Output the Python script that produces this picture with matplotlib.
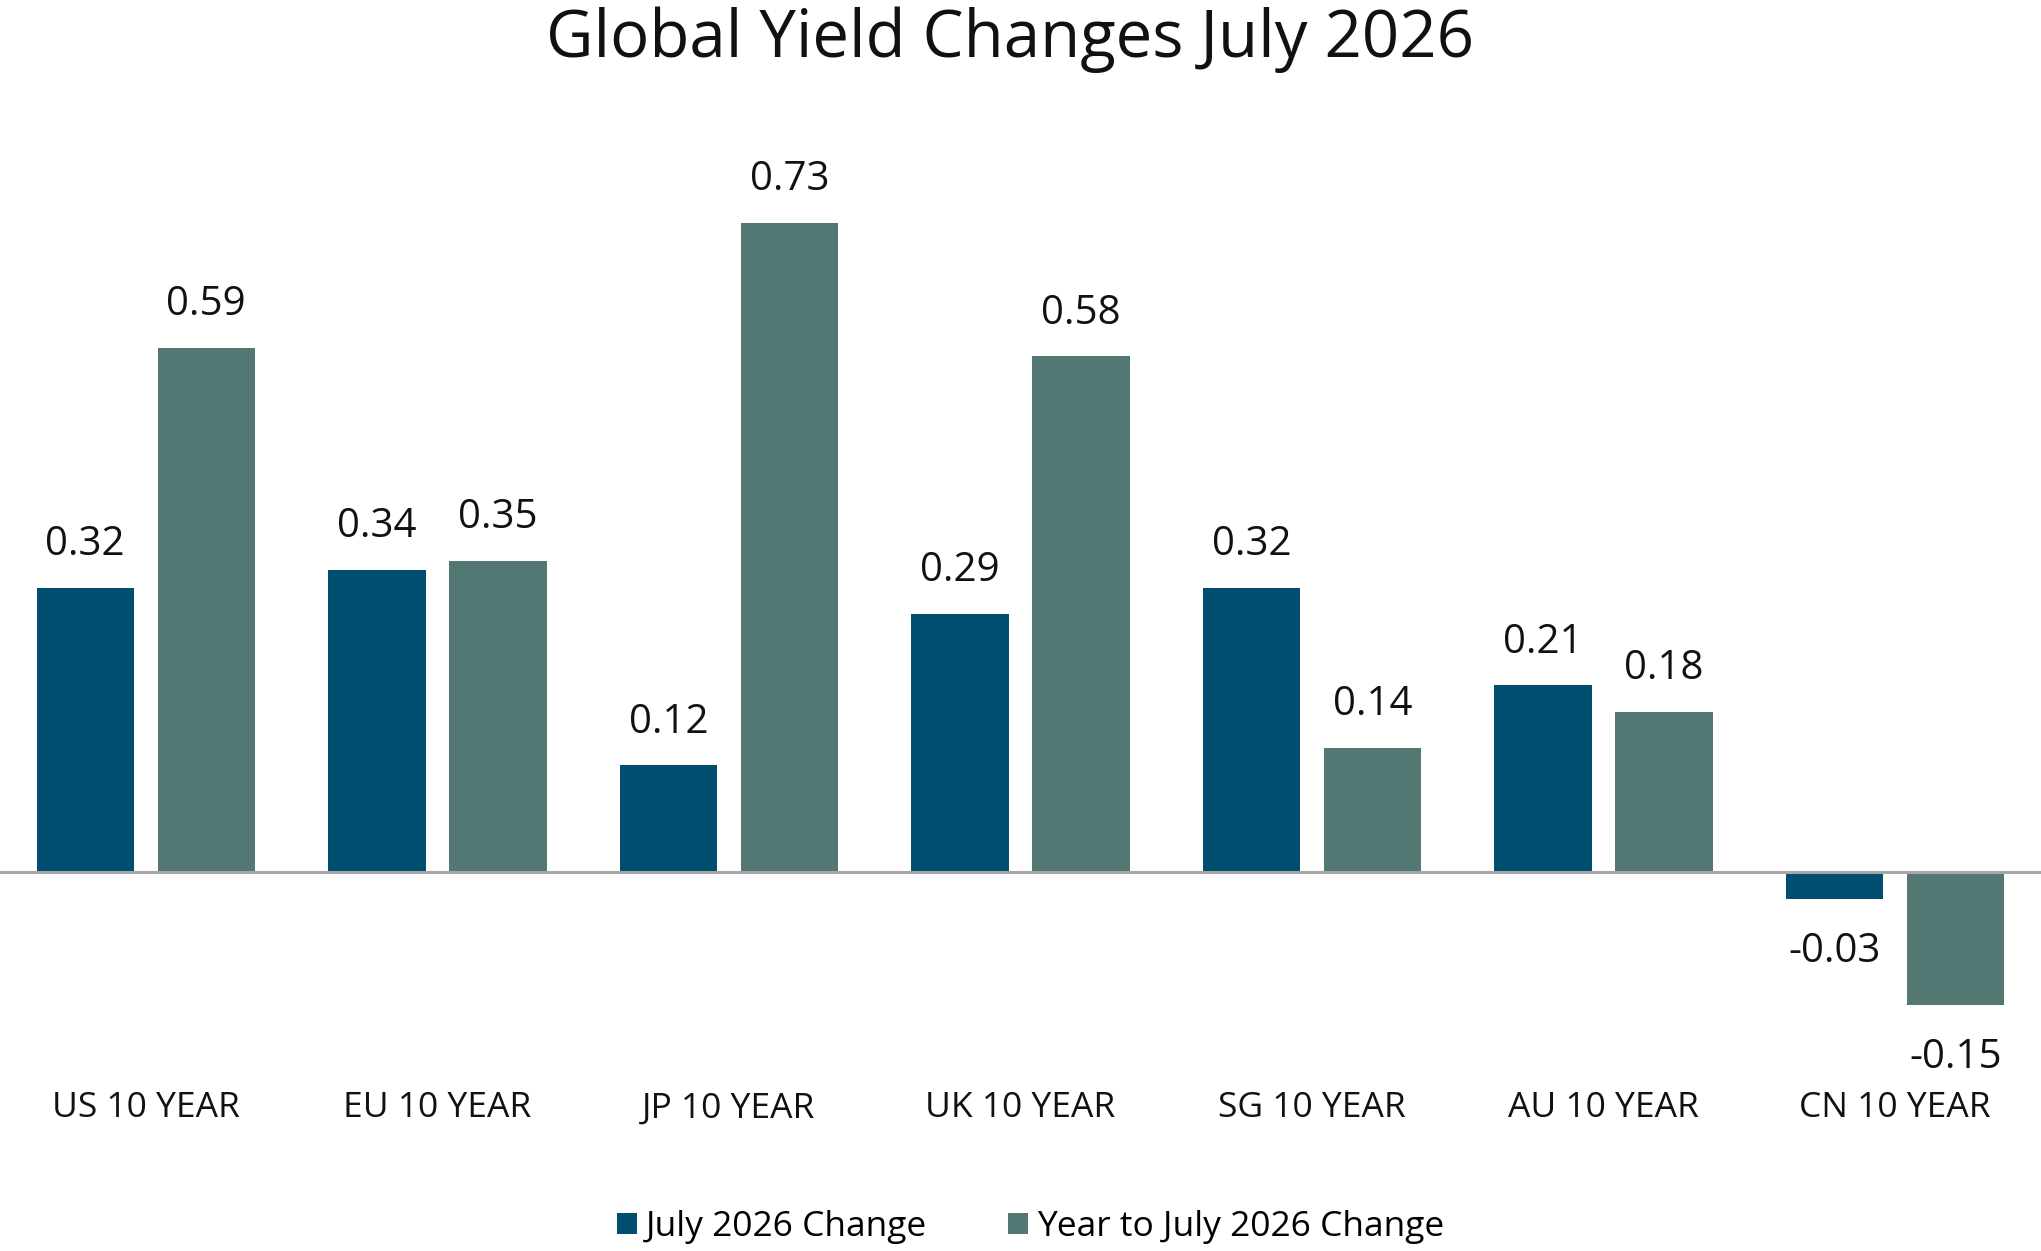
import matplotlib
matplotlib.use("Agg")
import matplotlib.pyplot as plt
import matplotlib.transforms as mtransforms
import numpy as np
from matplotlib.patches import Patch

categories = ["US 10 YEAR", "EU 10 YEAR", "JP 10 YEAR", "UK 10 YEAR",
              "SG 10 YEAR", "AU 10 YEAR", "CN 10 YEAR"]
july_change = [0.32, 0.34, 0.12, 0.29, 0.32, 0.21, -0.03]
ytd_change = [0.59, 0.35, 0.73, 0.58, 0.14, 0.18, -0.15]
series_names = ["July 2026 Change", "Year to July 2026 Change"]
title = "Global Yield Changes July 2026"

plt.rcParams['font.family'] = ['Open Sans', 'DejaVu Sans']

c_july = "#004F71"
c_ytd = "#537773"

fig = plt.figure(figsize=(20.41, 12.51), dpi=100)
ax = fig.add_axes([0, 0, 1, 1])
ax.set_xlim(-0.5, len(categories) - 0.5)
ax.set_ylim(-0.4263, 0.981)
ax.axis("off")

x = np.arange(len(categories))
w = 0.334
off = 0.2075
b1 = ax.bar(x - off, july_change, width=w, color=c_july, zorder=2)
b2 = ax.bar(x + off, ytd_change, width=w, color=c_ytd, zorder=2)
ax.axhline(0, color="#A6A6A6", lw=2.2, zorder=3)

for bars, vals in ((b1, july_change), (b2, ytd_change)):
    for rect, v in zip(bars, vals):
        cx = rect.get_x() + rect.get_width() / 2
        dy = 31 if v >= 0 else -38
        ax.annotate(f"{v:.2f}", (cx, v), xytext=(0, dy), textcoords="offset points",
                    ha="center", va="center", fontsize=29, color="#111111")

trans = mtransforms.blended_transform_factory(ax.transData, ax.transAxes)
for xi, cat in zip(x, categories):
    ax.text(xi, 0.114, cat, transform=trans, ha="center", va="center",
            fontsize=25.5, color="#111111")

fig.text(0.495, 0.968, title, ha="center", va="center", fontsize=47, color="#111111")

handles = [Patch(facecolor=c_july), Patch(facecolor=c_ytd)]
fig.legend(handles, series_names, loc="center", bbox_to_anchor=(0.505, 0.019),
           ncol=2, frameon=False, fontsize=25.5, handlelength=0.55, handleheight=0.55,
           handletextpad=0.25, columnspacing=2.3)

fig.savefig("out.png", dpi=100, facecolor="white")
